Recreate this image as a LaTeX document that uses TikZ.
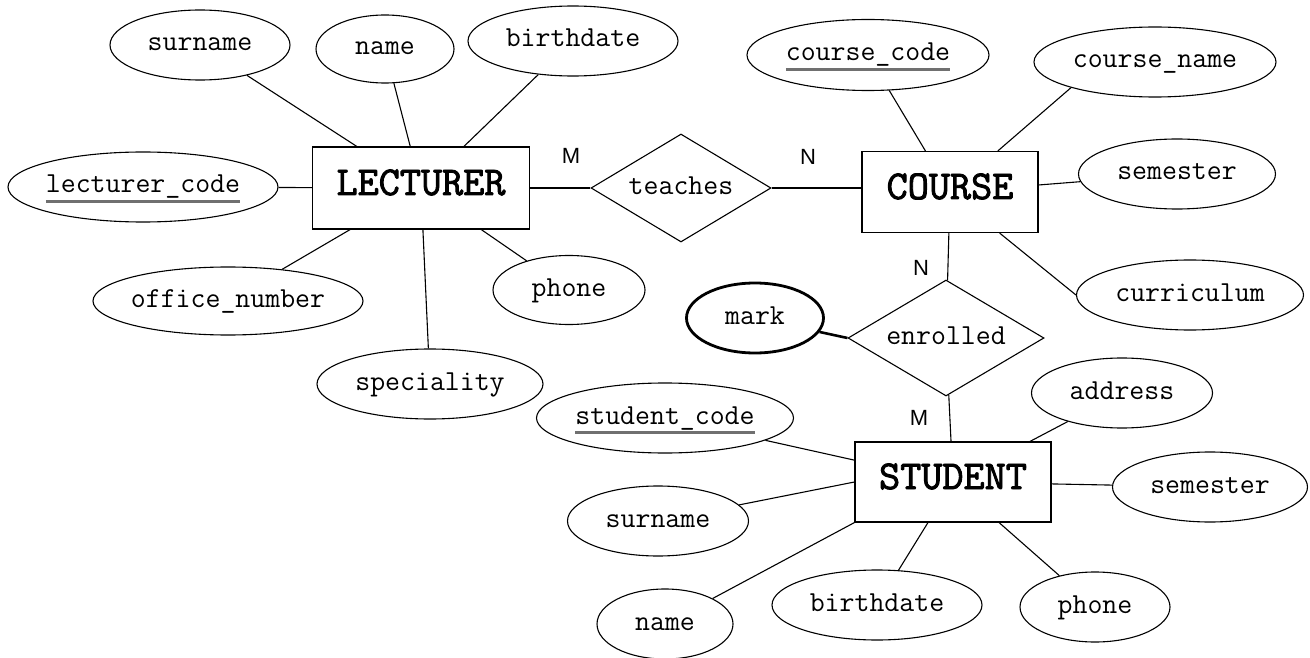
\documentclass[tikz,border=0pt]{standalone}
\usepackage{fontspec}
\usetikzlibrary{shapes.geometric,calc}
\newfontfamily\cardfont{Liberation Sans}
\newfontfamily\entfont{Latin Modern Mono}[FakeBold=2.2]
\definecolor{keygray}{HTML}{707070}
% centred text that does not widen its shape
\newcommand\ctr[1]{\makebox[0pt]{#1}}
% key attribute: text with a grey bar underneath
\newcommand\pk[1]{\makebox[0pt]{\setbox0\hbox{#1}\rlap{\copy0}\smash{\textcolor{keygray}{\rule[-10pt]{\wd0}{3pt}}}}}
\begin{document}
\begin{tikzpicture}[x=1pt,y=-1pt,line width=1.1pt,
  wh/.style 2 args={minimum width=#1pt,minimum height=#2pt},
  attr/.style={ellipse,draw,inner sep=0pt,font=\ttfamily\fontsize{29}{29}\selectfont,text height=17.5pt,text depth=5.5pt},
  keyattr/.style={attr},
  derived/.style={attr,line width=2.8pt},
  entity/.style={rectangle,draw,inner sep=0pt,font=\entfont\fontsize{41}{41}\selectfont,text height=26pt,text depth=12pt},
  relation/.style={diamond,draw,inner sep=0pt,font=\ttfamily\fontsize{29}{29}\selectfont,text height=17.5pt,text depth=5.5pt},
  card/.style={inner sep=0pt,font=\cardfont\fontsize{22}{22}\selectfont},
  heavy/.style={line width=2.6pt}]
\useasboundingbox (0,0) rectangle (1310,658);

% entities
\node[entity,wh={217}{82}] (L) at (421,188) {LECTURER};
\node[entity,wh={176}{81}] (C) at (950,192) {COURSE};
\node[entity,wh={196}{80}] (S) at (953,482) {STUDENT};

% relationships
\node[relation,wh={180}{108}] (teaches) at (681,188) {\ctr{teaches}};
\node[relation,wh={196}{116}] (enr) at (946,338) {\ctr{enrolled}};

% lecturer attributes
\node[attr,wh={180}{70}] (sur1) at (200,45) {\ctr{surname}};
\node[attr,wh={138}{68}] (name1) at (385,49) {\ctr{name}};
\node[attr,wh={210}{70}] (birth1) at (573,41) {\ctr{birthdate}};
\node[keyattr,wh={270}{70}] (lcode) at (143,187) {\pk{lecturer\_code}};
\node[attr,wh={270}{68}] (office) at (228,301) {\ctr{office\_number}};
\node[attr,wh={152}{69}] (phone1) at (569,290) {\ctr{phone}};
\node[attr,wh={226}{70}] (spec) at (430,384) {\ctr{speciality}};

% course attributes
\node[keyattr,wh={242}{71}] (ccode) at (868,55) {\pk{course\_code}};
\node[attr,wh={242}{70}] (cname) at (1155,62) {\ctr{course\_name}};
\node[attr,wh={197}{70}] (csem) at (1177,174) {\ctr{semester}};
\node[attr,wh={227}{70}] (curr) at (1190,295) {\ctr{curriculum}};

% relationship attribute
\node[derived,wh={137}{70}] (mark) at (755,318) {\ctr{mark}};

% student attributes
\node[keyattr,wh={257}{70}] (scode) at (665,418) {\pk{student\_code}};
\node[attr,wh={181}{70}] (ssur) at (658,521) {\ctr{surname}};
\node[attr,wh={136}{70}] (sname) at (665,624) {\ctr{name}};
\node[attr,wh={210}{70}] (sbirth) at (877,605) {\ctr{birthdate}};
\node[attr,wh={150}{70}] (sphone) at (1095,607) {\ctr{phone}};
\node[attr,wh={181}{70}] (addr) at (1122,393) {\ctr{address}};
\node[attr,wh={195}{70}] (ssem) at (1210,487) {\ctr{semester}};

% cardinalities
\node[card] (cm1) at (571,156) {M};
\node[card] (cn1) at (808,157) {N};
\node[card] (cn2) at (921,268) {N};
\node[card] (cm2) at (919,418) {M};

% lecturer links
\draw (sur1) -- (L);
\draw (name1) -- (L);
\draw (birth1) -- (L);
\draw (lcode) -- (L);
\draw (office) -- (L);
\draw (spec) -- (L);
\draw (phone1) -- (L);

% relationship links
\draw (L) -- (teaches);
\draw (teaches.east) -- (teaches.east -| C.west);
\draw (C) -- (enr);
\draw (enr) -- (S);
\draw[heavy] (mark) -- (enr.west);

% course links
\draw (ccode) -- (C);
\draw (cname.197) -- ($(C.north west)!0.77!(C.north east)$);
\draw (csem) -- (C);
\draw (curr.west) -- ($(C.south west)!0.78!(C.south east)$);

% student links
\draw (scode) -- (S);
\draw (ssur) -- (S.west);
\draw (sname) -- (S.south west);
\draw (sbirth) -- (S);
\draw (sphone) -- (S);
\draw (addr) -- (S);
\draw (ssem) -- (S);
\end{tikzpicture}
\end{document}
